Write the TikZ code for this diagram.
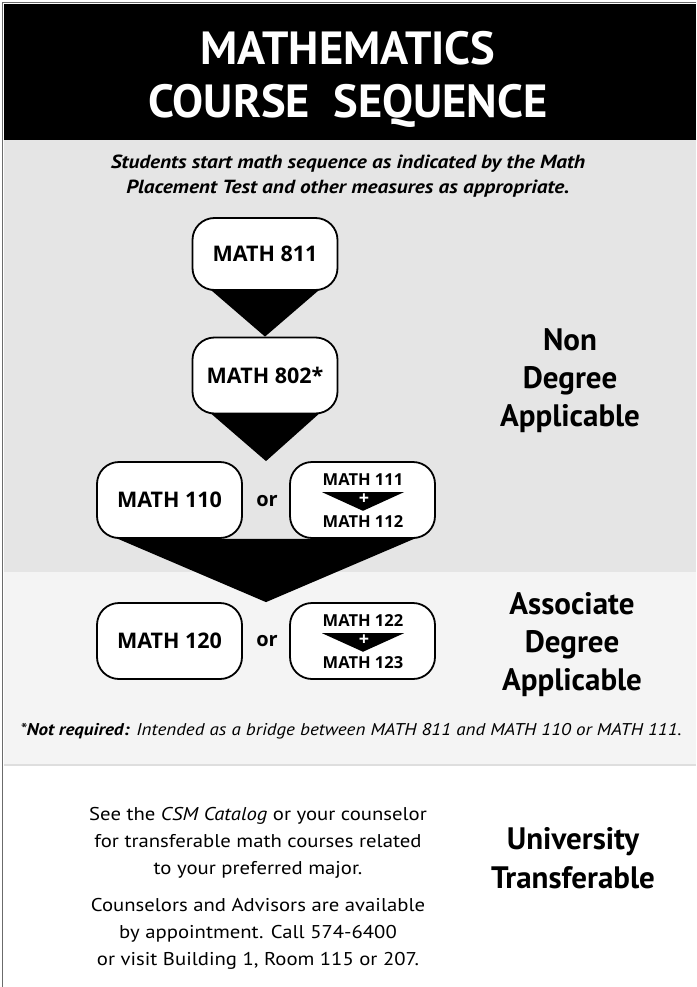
\documentclass[tikz,border=0pt]{standalone}
\usepackage{fontspec}
\setmainfont{PT Sans}
\newfontfamily\boxfont{Open Sans}
\newfontfamily\widefont[FakeStretch=1.12]{PT Sans}
\usetikzlibrary{calc}

\definecolor{panelgray}{gray}{0.898}
\definecolor{panellight}{gray}{0.957}
\definecolor{edgegray}{gray}{0.42}
\definecolor{rulegray}{gray}{0.87}

\pgfdeclarelayer{back}
\pgfdeclarelayer{flow}
\pgfsetlayers{back,flow,main}

\tikzset{
  course/.style={draw, line width=1.8pt, rounded corners=22pt, fill=white,
    minimum width=145pt, minimum height=76pt, inner sep=0pt,
    font=\boxfont\bfseries\fontsize{21.5}{24}\selectfont},
  pairline/.style={inner sep=0pt, font=\boxfont\bfseries\fontsize{16.5}{20}\selectfont},
  plussign/.style={white, inner sep=0pt, font=\boxfont\bfseries\fontsize{18}{18}\selectfont},
  ortext/.style={font=\boxfont\bfseries\fontsize{20}{24}\selectfont},
  level/.style={align=center, font=\bfseries\fontsize{31}{38}\selectfont},
  bodytext/.style={align=center, font=\widefont\fontsize{18.5}{27}\selectfont}
}

\begin{document}
\begin{tikzpicture}[x=1pt,y=-1pt]
\useasboundingbox (0,0) rectangle (696,987);

\begin{pgfonlayer}{back}
\fill[white] (0,0) rectangle (696,987);
\fill[black] (4,4) rectangle (696,140);
\fill[panelgray] (4,140) rectangle (696,572);
\fill[panellight] (4,572) rectangle (696,765);
\draw[rulegray, line width=1.5pt] (4,765) -- (696,765);
\draw[edgegray, line width=1.2pt] (696,2.5) -- (2.5,2.5) -- (2.5,987);
\end{pgfonlayer}

\node[white, align=center, font=\bfseries\fontsize{46.5}{53}\selectfont] (title) at (348,79)
  {MATHEMATICS\\COURSE\ \ SEQUENCE};
\node[align=center, font=\widefont\bfseries\itshape\fontsize{19}{25}\selectfont] (intro) at (348,176)
  {Students start math sequence as indicated by the Math\\Placement Test and other measures as appropriate.};

\node[course, minimum height=72pt] (m811) at (265,254) {MATH 811};
\node[course] (m802) at (265,375.5) {MATH 802*};

\node[course] (m110) at (169.5,500) {MATH 110};
\node[ortext] (or1) at (267,501) {or};
\node[course] (m111) at (362.5,500) {};
\node[pairline] (m111t) at (363,480) {MATH 111};
\node[pairline] (m112t) at (363,522) {MATH 112};

\node[course] (m120) at (169.5,641) {MATH 120};
\node[ortext] (or2) at (267,641) {or};
\node[course] (m122) at (362.5,641) {};
\node[pairline] (m122t) at (363,621) {MATH 122};
\node[pairline] (m123t) at (363,663) {MATH 123};

\begin{pgfonlayer}{flow}
\fill ($(m811.south)+(-60,-6)$) -- ($(m811.south)+(60,-6)$) -- (m802.north) -- cycle;
\fill ($(m802.south)+(-60,-6)$) -- ($(m802.south)+(60,-6)$)
  -- ($(m110.north east)!0.5!(m111.north west)$) -- cycle;
\fill ($(m110.south)+(-58.5,-3)$) -- (m110.south) -- (m111.south) -- ($(m111.south)+(58.5,-3)$)
  -- ($(m120.north east)!0.5!(m122.north west)$) -- cycle;
\end{pgfonlayer}

\fill ($(m111t.south)+(-41,6)$) -- ($(m111t.south)+(41,6)$) -- ($(m112t.north)+(0,-5)$) -- cycle;
\node[plussign] (plus1) at (364,499) {+};
\fill ($(m122t.south)+(-41,6)$) -- ($(m122t.south)+(41,6)$) -- ($(m123t.north)+(0,-5)$) -- cycle;
\node[plussign] (plus2) at (364,640) {+};

\node[level] (nondeg) at (570,381) {Non\\Degree\\Applicable};
\node[level] (assoc) at (572,645) {Associate\\Degree\\Applicable};
\node[level, font=\bfseries\fontsize{31}{39}\selectfont] (univ) at (573,858) {University\\Transferable};

\node[font=\widefont\itshape\fontsize{17}{20}\selectfont] (note) at (351,731)
  {*\textbf{Not required:} Intended as a bridge between MATH 811 and MATH 110 or MATH 111.};

\node[bodytext] (catalog) at (258,843)
  {See the \textit{CSM Catalog} or your counselor\\for transferable math courses related\\to your preferred major.};
\node[bodytext] (advisors) at (258,934)
  {Counselors and Advisors are available\\by appointment. Call 574-6400\\or visit Building 1, Room 115 or 207.};
\end{tikzpicture}
\end{document}
